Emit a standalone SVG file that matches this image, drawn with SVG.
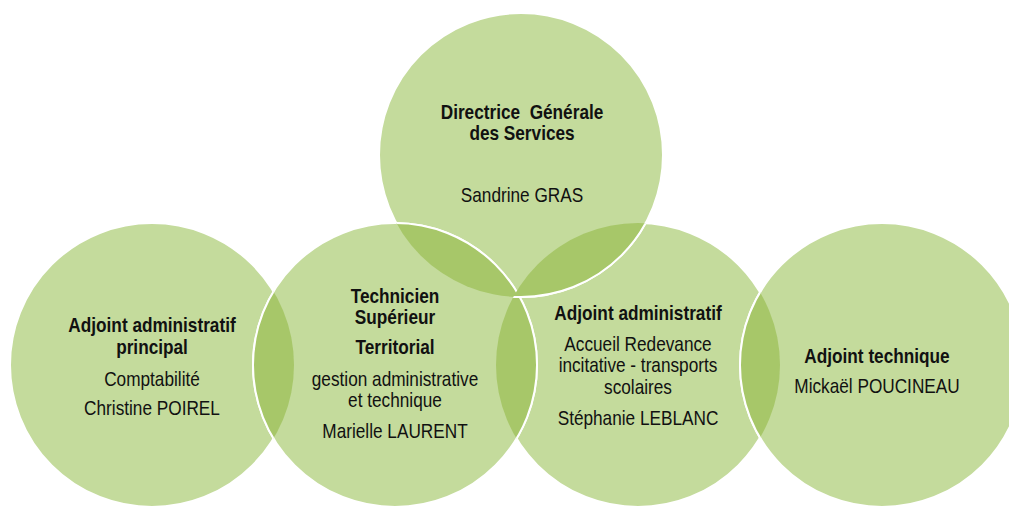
<svg xmlns="http://www.w3.org/2000/svg" width="1009" height="507" viewBox="0 0 1009 507">
<style>
.c{fill:#c4db9c;stroke:#ffffff;stroke-width:2}
.lens{fill:#a7c769;stroke:none}
.edge{fill:none;stroke:#ffffff;stroke-width:2}
text{font-family:"Liberation Sans",Arial,sans-serif;font-size:21px;fill:#111111;text-anchor:middle}
.b{font-weight:bold}
</style>
<defs>
<clipPath id="clipLeft"><circle cx="152" cy="365" r="142"/></clipPath>
<clipPath id="clipTop"><circle cx="521" cy="155" r="142"/></clipPath>
<clipPath id="clipAdmin"><circle cx="638" cy="365" r="142"/></clipPath>
</defs>
<g id="node-adjoint-admin-principal">
<circle class="c" cx="152" cy="365" r="142"/>
</g>
<g id="node-adjoint-admin">
<circle class="c" cx="638" cy="365" r="142"/>
</g>
<g id="node-directrice">
<circle class="c" cx="521" cy="155" r="142"/>
</g>
<g id="node-technicien">
<circle class="c" cx="395" cy="365" r="142"/>
</g>
<g id="node-adjoint-technique">
<circle class="c" cx="882" cy="365" r="142"/>
</g>
<g id="overlaps">
<circle class="lens" cx="395" cy="365" r="142" clip-path="url(#clipLeft)"/>
<circle class="edge" cx="395" cy="365" r="142" clip-path="url(#clipLeft)"/>
<circle class="lens" cx="395" cy="365" r="142" clip-path="url(#clipTop)"/>
<circle class="edge" cx="395" cy="365" r="142" clip-path="url(#clipTop)"/>
<circle class="lens" cx="395" cy="365" r="142" clip-path="url(#clipAdmin)"/>
<circle class="edge" cx="395" cy="365" r="142" clip-path="url(#clipAdmin)"/>
<circle class="lens" cx="521" cy="155" r="142" clip-path="url(#clipAdmin)"/>
<circle class="edge" cx="521" cy="155" r="142" clip-path="url(#clipAdmin)"/>
<circle class="lens" cx="882" cy="365" r="142" clip-path="url(#clipAdmin)"/>
<circle class="edge" cx="882" cy="365" r="142" clip-path="url(#clipAdmin)"/>
</g>
<g id="labels">
<g id="label-directrice" transform="translate(522 0) scale(0.82 1)">
<text class="b" x="0" y="119" xml:space="preserve">Directrice  Générale</text>
<text class="b" x="0" y="140">des Services</text>
<text x="0" y="202">Sandrine GRAS</text>
</g>
<g id="label-adjoint-admin-principal" transform="translate(152 0) scale(0.82 1)">
<text class="b" x="0" y="332">Adjoint administratif</text>
<text class="b" x="0" y="354">principal</text>
<text x="0" y="386">Comptabilité</text>
<text x="0" y="415">Christine POIREL</text>
</g>
<g id="label-technicien" transform="translate(395 0) scale(0.82 1)">
<text class="b" x="0" y="303">Technicien</text>
<text class="b" x="0" y="324">Supérieur</text>
<text class="b" x="0" y="354">Territorial</text>
<text x="0" y="386">gestion administrative</text>
<text x="0" y="407">et technique</text>
<text x="0" y="438">Marielle LAURENT</text>
</g>
<g id="label-adjoint-admin" transform="translate(638 0) scale(0.82 1)">
<text class="b" x="0" y="320">Adjoint administratif</text>
<text x="0" y="351">Accueil Redevance</text>
<text x="0" y="372">incitative - transports</text>
<text x="0" y="394">scolaires</text>
<text x="0" y="425">Stéphanie LEBLANC</text>
</g>
<g id="label-adjoint-technique" transform="translate(877 0) scale(0.82 1)">
<text class="b" x="0" y="363">Adjoint technique</text>
<text x="0" y="393">Mickaël POUCINEAU</text>
</g>
</g>
</svg>
